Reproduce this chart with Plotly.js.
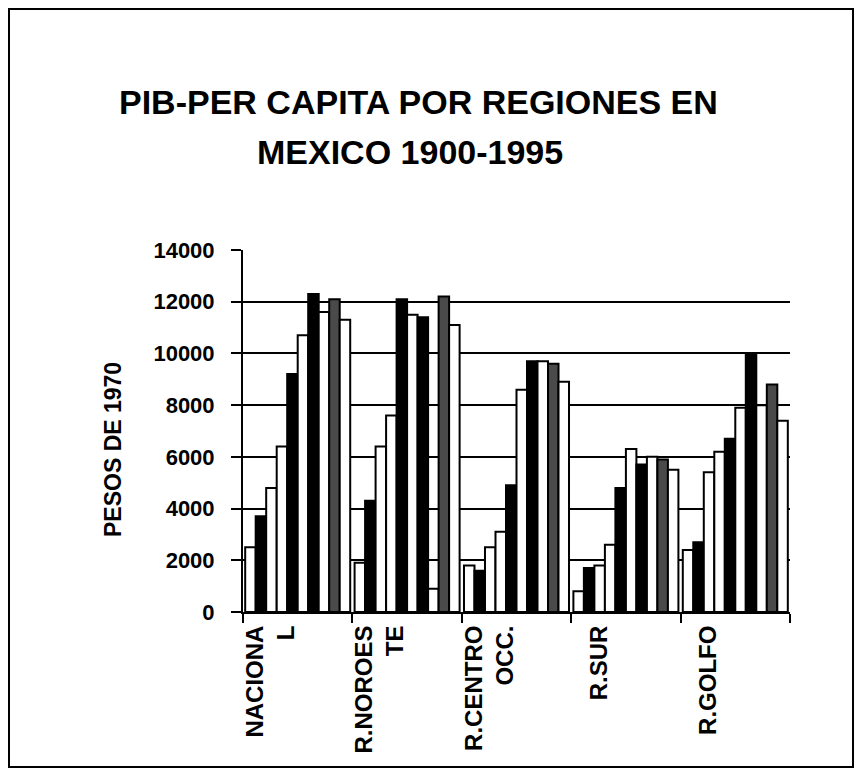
<!DOCTYPE html>
<html>
<head>
<meta charset="utf-8">
<script src="https://cdn.plot.ly/plotly-3.0.1.min.js"></script>
<style>
html,body{margin:0;padding:0;background:#fff;}
#frame{position:absolute;left:8px;top:8px;width:842px;height:756px;border:2px solid #000;}
#chart{position:absolute;left:0;top:0;width:861px;height:783px;}
</style>
</head>
<body>
<div id="frame"></div>
<div id="chart"></div>
<script>
// Categories (regions) and tick labels
const regions = ["NACIONAL", "R.NOROESTE", "R.CENTRO OCC.", "R.SUR", "R.GOLFO"];
const regionLabels = ["NACIONA<br>L", "R.NOROES<br>TE", "R.CENTRO<br>OCC.", "R.SUR", "R.GOLFO"];
const yTickVals = [0, 2000, 4000, 6000, 8000, 10000, 12000, 14000];
const yTickText = ["0", "2000", "4000", "6000", "8000", "10000", "12000", "14000"];

// Series (one per period), pesos de 1970
const seriesNames = ["S1", "S2", "S3", "S4", "S5", "S6", "S7", "S8", "S9", "S10"];
const s1  = [2500, 1900, 1800,  800, 2400];
const s2  = [3700, 4300, 1600, 1700, 2700];
const s3  = [4800, 6400, 2500, 1800, 5400];
const s4  = [6400, 7600, 3100, 2600, 6200];
const s5  = [9200, 12100, 4900, 4800, 6700];
const s6  = [10700, 11500, 8600, 6300, 7900];
const s7  = [12300, 11400, 9700, 5700, 10000];
const s8  = [11600, 900, 9700, 6000, 8000];
const s9  = [12100, 12200, 9600, 5900, 8800];
const s10 = [11300, 11100, 8900, 5500, 7400];
const seriesValues = [s1, s2, s3, s4, s5, s6, s7, s8, s9, s10];

// Styles
const fills = ["#ffffff", "#000000", "#ffffff", "#ffffff", "#000000", "#ffffff", "#000000", "#ffffff", "#4a4a4a", "#ffffff"];

const FONT = "Liberation Sans, Arial, Helvetica, sans-serif";

const traces = seriesValues.map((vals, i) => ({
  type: "bar",
  name: seriesNames[i],
  x: regions,
  y: vals,
  marker: {color: fills[i], line: {color: "#000", width: 2}},
  hoverinfo: "x+y"
}));

const L = 243, R = 790, T = 250, B = 612;
const W = 861, H = 783;
const pw = R - L, ph = B - T;
const px = x => (x - L) / pw;
const py = y => (B - y) / ph;

const layout = {
  width: W, height: H,
  paper_bgcolor: "rgba(0,0,0,0)",
  plot_bgcolor: "rgba(0,0,0,0)",
  margin: {l: L, r: W - R, t: T, b: H - B},
  showlegend: false,
  barmode: "group",
  bargap: 0.04,
  bargroupgap: 0,
  font: {family: FONT, color: "#000", size: 20, weight: "bold"},
  xaxis: {
    type: "category",
    tickmode: "array",
    tickvals: regions,
    ticktext: regionLabels,
    tickangle: -90,
    tickson: "boundaries",
    ticks: "outside",
    ticklen: 9,
    tickwidth: 2,
    tickcolor: "#000",
    showline: true,
    linecolor: "#000",
    linewidth: 2,
    showgrid: false,
    ticklabelshift: -27,
    ticklabelstandoff: 2,
    tickfont: {family: FONT, size: 24, color: "#000", weight: "bold"}
  },
  yaxis: {
    range: [0, 14000],
    tickmode: "array",
    tickvals: yTickVals,
    ticktext: yTickText,
    ticks: "outside",
    ticklen: 10,
    tickwidth: 2,
    tickcolor: "#000",
    showline: true,
    linecolor: "#000",
    linewidth: 2,
    showgrid: true,
    gridcolor: "#000",
    gridwidth: 2,
    zeroline: false,
    ticklabelstandoff: 12,
    tickfont: {family: FONT, size: 22, color: "#000", weight: "bold"}
  },
  annotations: [
    {text: "PIB-PER CAPITA POR REGIONES EN", xref: "paper", yref: "paper",
     x: px(418), y: py(102), xanchor: "center", yanchor: "middle", showarrow: false,
     font: {family: FONT, size: 34, color: "#000", weight: "bold"}},
    {text: "MEXICO 1900-1995", xref: "paper", yref: "paper",
     x: px(410), y: py(152), xanchor: "center", yanchor: "middle", showarrow: false,
     font: {family: FONT, size: 34, color: "#000", weight: "bold"}},
    {text: "PESOS DE 1970", xref: "paper", yref: "paper", textangle: -90,
     x: px(113), y: py(450), xanchor: "center", yanchor: "middle", showarrow: false,
     font: {family: FONT, size: 23, color: "#000", weight: "bold"}}
  ]
};

Plotly.newPlot("chart", traces, layout, {displayModeBar: false, staticPlot: true});
</script>
</body>
</html>
